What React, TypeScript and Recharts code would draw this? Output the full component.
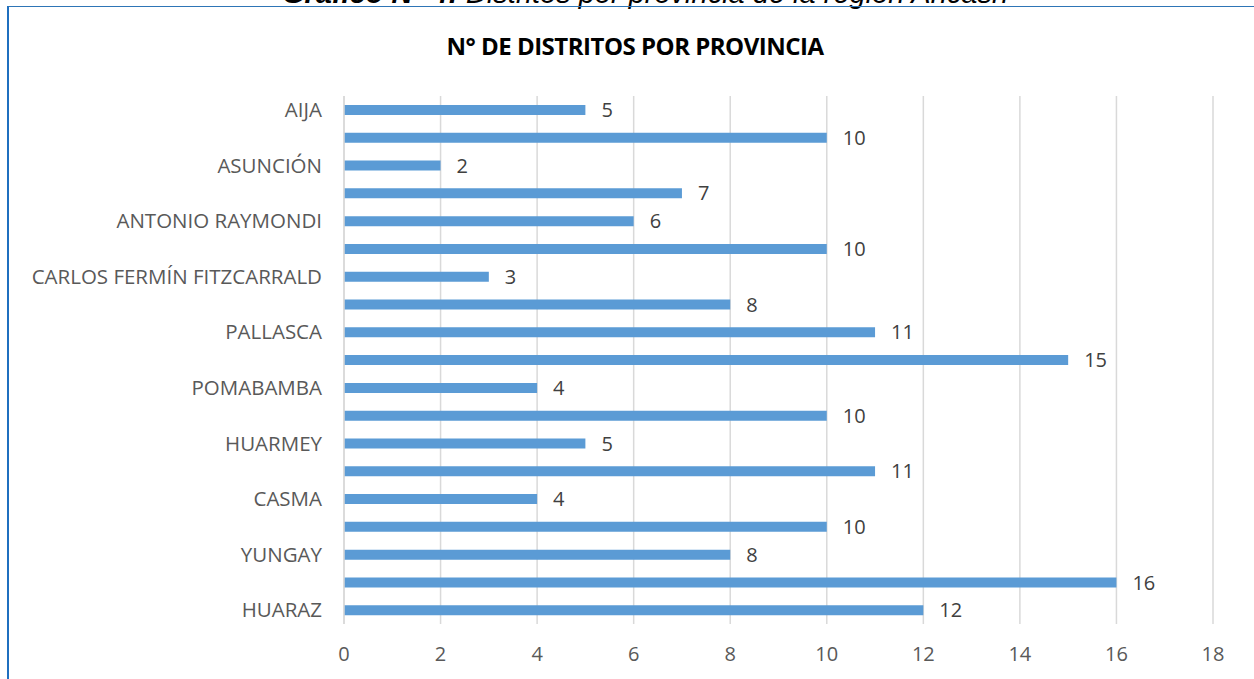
import React from 'react';
import { BarChart, Bar, XAxis, YAxis, CartesianGrid, LabelList } from 'recharts';

const provincias = [
  'AIJA', 'RECUAY', 'ASUNCIÓN', 'CORONGO', 'ANTONIO RAYMONDI', 'SIHUAS',
  'CARLOS FERMÍN FITZCARRALD', 'MARISCAL LUZURIAGA', 'PALLASCA', 'BOLOGNESI',
  'POMABAMBA', 'OCROS', 'HUARMEY', 'CARHUAZ', 'CASMA', 'HUAYLAS', 'YUNGAY',
  'HUARI', 'HUARAZ',
];
const distritos = [5, 10, 2, 7, 6, 10, 3, 8, 11, 15, 4, 10, 5, 11, 4, 10, 8, 16, 12];
const xTicks = [0, 2, 4, 6, 8, 10, 12, 14, 16, 18];

const chartData = provincias.map((name, i) => ({ name, distritos: distritos[i] }));

const FONT = '"Open Sans", "Liberation Sans", sans-serif';

const App: React.FC = () => {
  return (
    <div style={{ position: 'absolute', left: 0, top: 0, width: 1254, height: 679, overflow: 'hidden', background: '#fff', fontFamily: FONT }}>
      <div
        style={{
          position: 'absolute', left: 0, width: 1254, top: -23, textAlign: 'center',
          fontFamily: 'Arial, "Liberation Sans", sans-serif', fontStyle: 'italic', fontSize: 29, color: '#000',
          paddingLeft: 18, lineHeight: '32px',
        }}
      >
        <b>Gráfico N° 4:</b> Distritos por provincia de la región Ancash
      </div>
      <div
        style={{
          position: 'absolute', left: 7, top: 6, width: 1280, height: 700,
          borderLeft: '2px solid #1F6FBF', borderTop: '1px solid #2E75B6',
        }}
      />
      <div
        style={{
          position: 'absolute', left: 0, width: 1254, top: 29, textAlign: 'center',
          fontWeight: 700, fontSize: 24, color: '#000', paddingLeft: 8, letterSpacing: -0.5,
        }}
      >
        N° DE DISTRITOS POR PROVINCIA
      </div>
      <div style={{ position: 'absolute', left: 0, top: 0 }}>
        <BarChart
          width={1254}
          height={679}
          data={chartData}
          layout="vertical"
          margin={{ top: 96, right: 41, bottom: 25, left: 0 }}
          barCategoryGap={0}
        >
          <CartesianGrid horizontal={false} vertical stroke="#d9d9d9" strokeWidth={1.5} />
          <XAxis
            type="number"
            domain={[0, 18]}
            ticks={xTicks}
            axisLine={false}
            tickLine={false}
            tickSize={0}
            tickMargin={23}
            height={30}
            tick={{ fontSize: 20, fill: '#595959', fontFamily: FONT }}
          />
          <YAxis
            type="category"
            dataKey="name"
            width={344}
            interval={1}
            axisLine={{ stroke: '#d9d9d9', strokeWidth: 1.5 }}
            tickLine={false}
            tickSize={0}
            tickMargin={22}
            tick={{ fontSize: 20.5, fill: '#595959', fontFamily: FONT }}
          />
          <Bar dataKey="distritos" fill="#5B9BD5" barSize={10} isAnimationActive={false}>
            <LabelList dataKey="distritos" position="right" offset={16} style={{ fill: '#404040', fontSize: 20, fontFamily: FONT }} />
          </Bar>
        </BarChart>
      </div>
    </div>
  );
};

export default App;
